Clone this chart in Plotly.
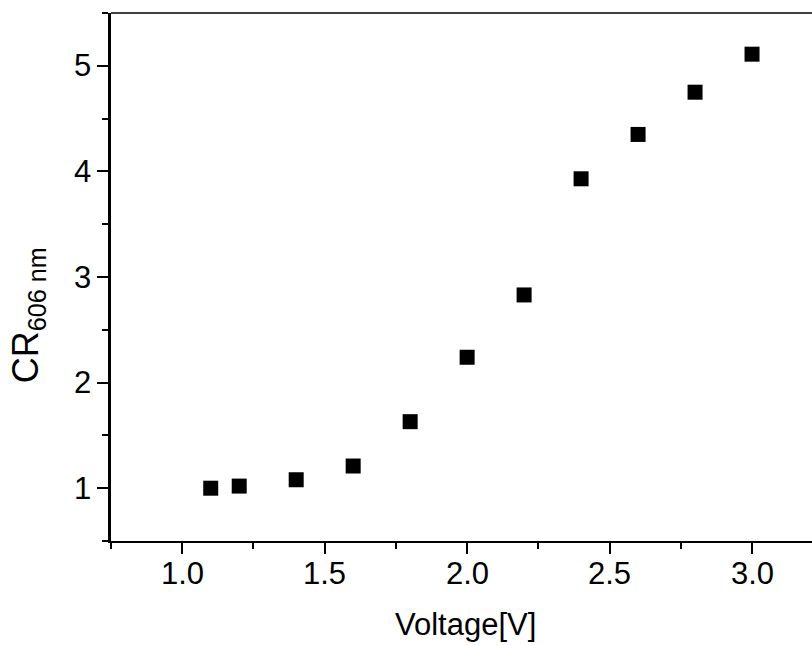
import plotly.graph_objects as go

# Contrast ratio at 606 nm versus drive voltage
voltage = [1.1, 1.2, 1.4, 1.6, 1.8, 2.0, 2.2, 2.4, 2.6, 2.8, 3.0]
contrast = [1.00, 1.02, 1.08, 1.21, 1.63, 2.24, 2.83, 3.93, 4.35, 4.75, 5.11]

x_ticks = [1.0, 1.5, 2.0, 2.5, 3.0]
x_tick_text = ["1.0", "1.5", "2.0", "2.5", "3.0"]
y_ticks = [1, 2, 3, 4, 5]
y_tick_text = ["1", "2", "3", "4", "5"]

FONT = "Liberation Sans, Arial, sans-serif"
TICK_FONT = dict(family=FONT, size=31, color="black")

fig = go.Figure(
    go.Scatter(
        x=voltage,
        y=contrast,
        mode="markers",
        marker=dict(symbol="square", size=15, color="black", line=dict(width=0)),
        showlegend=False,
    )
)

axis_common = dict(
    showgrid=False,
    zeroline=False,
    showline=True,
    linecolor="black",
    ticks="outside",
    ticklen=11,
    tickwidth=2,
    tickcolor="black",
    showticklabels=False,
)

fig.update_xaxes(
    **axis_common,
    linewidth=2,
    range=[0.75, 3.2105],
    tickmode="array",
    tickvals=x_ticks,
    minor=dict(ticks="outside", ticklen=6, tickwidth=2, tickcolor="black",
               tick0=0.75, dtick=0.25),
)
fig.update_yaxes(
    **axis_common,
    linewidth=2.5,
    range=[0.5, 5.5],
    tickmode="array",
    tickvals=y_ticks,
    minor=dict(ticks="outside", ticklen=6, tickwidth=2, tickcolor="black",
               tick0=0.5, dtick=0.5),
)

# Tick labels placed close to the ticks, positioned on the axis scales
annotations = []
for v, t in zip(x_ticks, x_tick_text):
    annotations.append(dict(text=t, x=v, xref="x", y=0, yref="paper",
                            xanchor="center", yanchor="middle", yshift=-32,
                            showarrow=False, font=TICK_FONT))
for v, t in zip(y_ticks, y_tick_text):
    annotations.append(dict(text=t, x=0, xref="paper", y=v, yref="y",
                            xanchor="right", yanchor="middle", xshift=-18,
                            showarrow=False, font=TICK_FONT))

annotations += [
    dict(text="Voltage[V]", xref="paper", yref="paper", x=0.5064, y=-0.159,
         xanchor="center", yanchor="middle", showarrow=False,
         font=dict(family=FONT, size=31, color="black")),
    dict(text="CR<sub>606 nm</sub>", xref="paper", yref="paper", x=-0.118, y=0.428,
         xanchor="center", yanchor="middle", textangle=-90, showarrow=False,
         font=dict(family=FONT, size=36, color="black")),
]

fig.update_layout(
    width=812,
    height=645,
    margin=dict(l=111, r=0, t=13, b=104),
    paper_bgcolor="white",
    plot_bgcolor="white",
    font=dict(family=FONT, color="black"),
    shapes=[
        dict(type="line", xref="paper", yref="paper", x0=0, x1=1, y0=1, y1=1,
             line=dict(color="black", width=1.3)),
    ],
    annotations=annotations,
)

fig.write_html("out.html")
